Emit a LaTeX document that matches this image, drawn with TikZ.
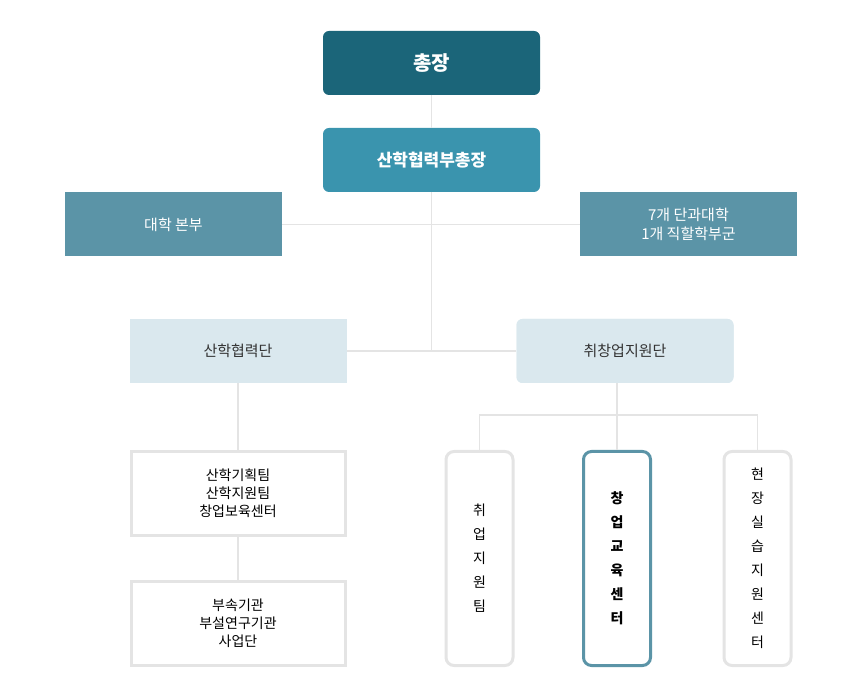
\documentclass[tikz,border=0pt]{standalone}
\usepackage{fontspec}
\setmainfont{Noto Sans CJK KR}
\usetikzlibrary{positioning}
\definecolor{topteal}{HTML}{1B6579}
\definecolor{midteal}{HTML}{3A94AE}
\definecolor{sideteal}{HTML}{5B94A7}
\definecolor{paleteal}{HTML}{DAE8EE}
\definecolor{linegray}{HTML}{E4E4E4}
\definecolor{textgray}{HTML}{333333}
\tikzset{
  box/.style={minimum width=217pt, minimum height=64pt, align=center, font=\fontsize{15}{19}\selectfont},
  darkbox/.style={box, fill=#1, text=white, rounded corners=6pt},
  sidebox/.style={box, fill=sideteal, text=white},
  palebox/.style={box, fill=paleteal, text=textgray},
  whitebox/.style={box, draw=linegray, line width=3pt, fill=white, text=black,
    minimum width=214pt, minimum height=84pt, font=\fontsize{14}{18}\selectfont},
  tallbox/.style={draw=linegray, line width=3pt, fill=white, rounded corners=8pt,
    minimum width=67pt, minimum height=214pt, align=center,
    font=\fontsize{14}{24}\selectfont},
  link/.style={draw=linegray, line width=1.5pt}
}
\begin{document}
\begin{tikzpicture}[x=1pt, y=-1pt]
  \useasboundingbox (0,0) rectangle (860,700);

  % top
  \node[darkbox=topteal, font=\fontsize{20}{24}\selectfont\bfseries] (chief) at (431.5,63) {총장};
  \node[darkbox=midteal, font=\fontsize{17}{21}\selectfont\bfseries] (vice) at (431.5,160) {산학협력부총장};
  \node[sidebox] (hq) at (173.5,224.5) {대학 본부};
  \node[sidebox] (colleges) at (688.5,224.5) {7개 단과대학\\1개 직할학부군};

  % middle
  \node[palebox] (coop) at (238,351) {산학협력단};
  \node[palebox, rounded corners=6pt] (career) at (625,351) {취창업지원단};

  % bottom
  \node[whitebox] (teams) at (238,493.5) {산학기획팀\\산학지원팀\\창업보육센터};
  \node[whitebox] (affil) at (238,623.5) {부속기관\\부설연구기관\\사업단};
  \node[tallbox] (job) at (479.5,558.5) {취\\업\\지\\원\\팀};
  \node[tallbox, draw=sideteal, font=\fontsize{14}{24}\selectfont\bfseries] (startup) at (617,558.5) {창\\업\\교\\육\\센\\터};
  \node[tallbox] (field) at (757.5,558.5) {현\\장\\실\\습\\지\\원\\센\\터};

  % connectors
  \coordinate (hub) at (431.5,351);
  \coordinate (split) at (617,415);
  \begin{scope}[on background layer/.try]
  \end{scope}
  \draw[link] (chief) -- (vice);
  \draw[link] (vice) -- (hub);
  \draw[link] (hq) -- (colleges);
  \draw[link] (coop) -- (career);
  \draw[link] (coop) -- (teams);
  \draw[link] (teams) -- (affil);
  \draw[link] (career.south -| split) -- (startup);
  \draw[link] (job.north) |- (split) -| (field.north);
  % redraw boxes over lines
  \node[sidebox] at (hq) {대학 본부};
  \node[sidebox] at (colleges) {7개 단과대학\\1개 직할학부군};
  \node[palebox] at (coop) {산학협력단};
  \node[palebox, rounded corners=6pt] at (career) {취창업지원단};
\end{tikzpicture}
\end{document}
